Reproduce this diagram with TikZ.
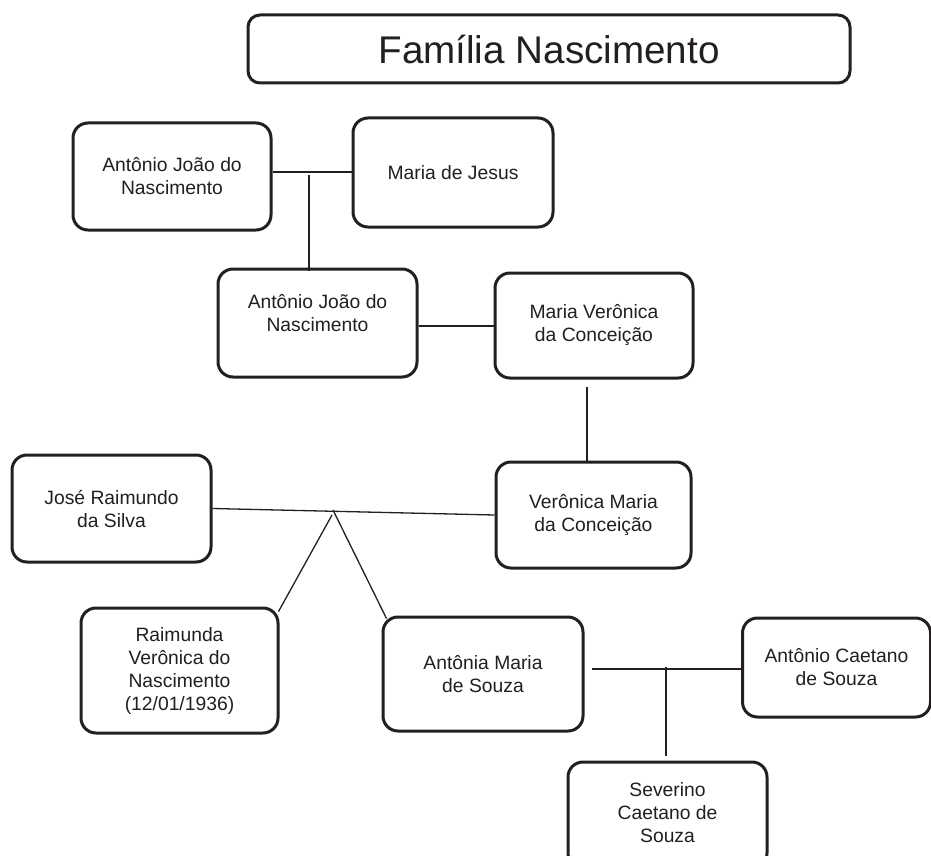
\documentclass[tikz,border=0pt]{standalone}
\usepackage{fontspec}
\setmainfont{Liberation Sans}
\definecolor{ink}{HTML}{231F20}
\tikzset{
  person/.style={draw=ink, line width=3pt, rounded corners=15pt, fill=white,
    align=center, inner sep=0pt, text=ink,
    font=\fontsize{19.3pt}{23pt}\selectfont},
  titlebox/.style={draw=ink, line width=3pt, rounded corners=12pt,
    inner sep=0pt, text=ink, font=\fontsize{38.6pt}{44pt}\selectfont},
  link/.style={draw=ink, line width=1.3pt}
}
\begin{document}
\begin{tikzpicture}[x=1pt, y=-1pt]
\useasboundingbox (0,0) rectangle (931,856);
\node[titlebox, minimum width=602pt, minimum height=68pt] (title) at (549,49) {Família Nascimento};
\node[person, minimum width=198pt, minimum height=107pt] (b1) at (172,176.5) {Antônio João do\\Nascimento};
\node[person, minimum width=200pt, minimum height=109pt] (b2) at (453,172.5) {Maria de Jesus};
\node[person, minimum width=199pt, minimum height=108pt] (b3) at (317.5,323) {Antônio João do\\Nascimento\\[-3pt]};
\node[person, minimum width=198pt, minimum height=105pt] (b4) at (594,325.5) {Maria Verônica\\da Conceição};
\node[person, minimum width=199pt, minimum height=107pt] (b5) at (111.5,508.5) {José Raimundo\\da Silva};
\node[person, minimum width=195pt, minimum height=106pt] (b6) at (593.5,515) {Verônica Maria\\da Conceição};
\node[person, minimum width=197pt, minimum height=125pt] (b7) at (179.5,670.5) {Raimunda\\Verônica do\\Nascimento\\(12/01/1936)};
\node[person, minimum width=200pt, minimum height=114pt] (b8) at (483,674) {Antônia Maria\\de Souza};
\node[person, minimum width=188pt, minimum height=99pt] (b9) at (836.5,667.5) {Antônio Caetano\\de Souza};
\node[person, minimum width=199pt, minimum height=106pt] (b10) at (667.5,815) {Severino\\Caetano de\\Souza\\[-17pt]};

\coordinate (j1) at (309,172);
\coordinate (j1b) at (309,175);
\coordinate (j2) at (456,326);
\coordinate (j3) at (587,387);
\coordinate (apex) at (333,510);
\coordinate (apexb) at (332,515);
\coordinate (j5) at (666,669);
\coordinate (j5b) at (666,667);

\draw[link] (b1.east |- j1) -- (b2.west |- j1);
\draw[link] (j1b) -- ([yshift=-3pt]b3.north -| j1b);
\draw[link] (b3.east |- j2) -- (b4.west |- j2);
\draw[link] (j3) -- (b6.north -| j3);
\draw[link] (b5.east) -- (b6.west);
\draw[link] (apex) -- ([xshift=5pt,yshift=-3pt]b8.north west);
\draw[link] (apexb) -- ([xshift=-1pt,yshift=-5pt]b7.north east);
\draw[link] ([xshift=7pt]b8.east |- j5) -- (b9.west |- j5);
\draw[link] (j5b) -- ([yshift=5pt]b10.north -| j5b);
\end{tikzpicture}
\end{document}
